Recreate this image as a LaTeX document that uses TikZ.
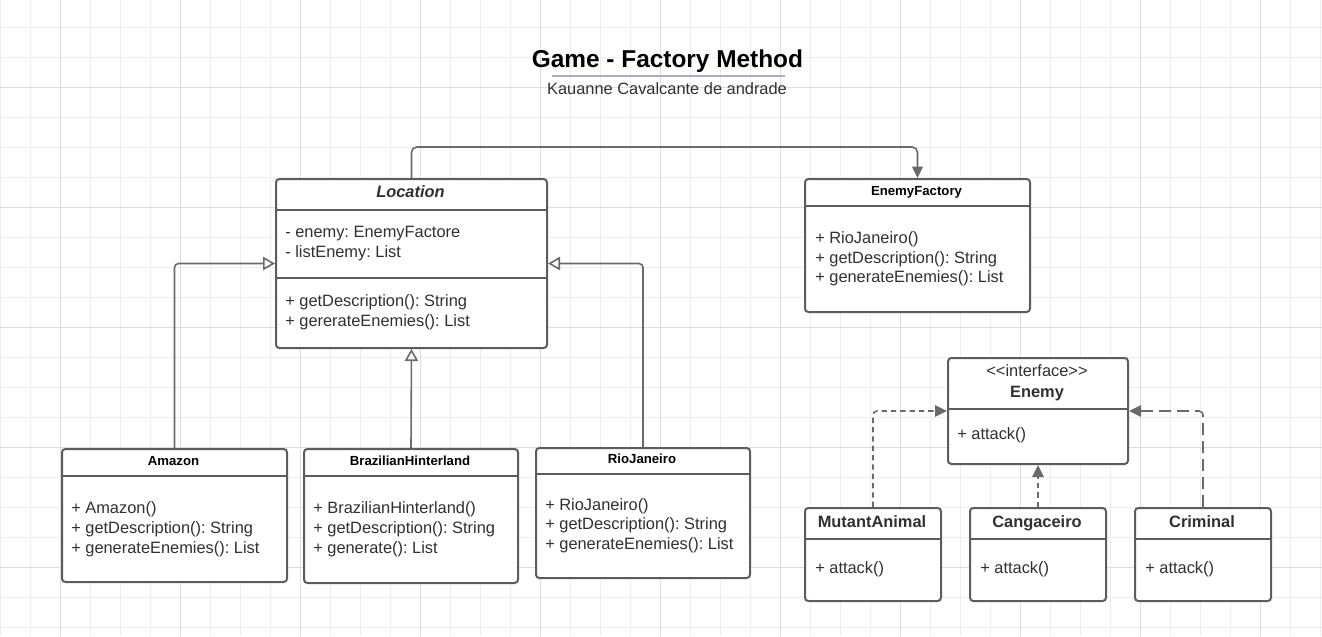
\documentclass[tikz,border=0pt]{standalone}
\usepackage{fontspec}
\setmainfont{Liberation Sans}
\usetikzlibrary{arrows.meta,calc}
\frenchspacing
\definecolor{boxgray}{HTML}{5C5C5C}
\definecolor{linegray}{HTML}{6A6A6A}
\definecolor{txtgray}{HTML}{2E3033}
\definecolor{gridminor}{HTML}{EEEEEE}
\definecolor{gridmajor}{HTML}{DDDDDD}
\definecolor{ulblue}{HTML}{A6ADC4}
\newcommand{\classbox}[5]{\node[classbox, minimum width=#4*0.75pt, minimum height=#5*0.75pt] (#1) at (#2,#3) {};}
\tikzset{
  classbox/.style={draw=boxgray, line width=1.5pt, rounded corners=2.5pt, fill=white, inner sep=0pt, anchor=north west},
  member/.style={anchor=base west, inner sep=0pt, text=txtgray, font=\fontsize{12.3}{15}\selectfont},
  cname/.style={anchor=base, inner sep=0pt, text=txtgray, font=\fontsize{12.3}{15}\selectfont\bfseries},
  cnamesmall/.style={anchor=base, inner sep=0pt, text=black, font=\fontsize{9.9}{12}\selectfont\bfseries},
  divider/.style={boxgray, line width=1.5pt},
  inherit/.style={linegray, line width=1.2pt, rounded corners=3pt, -{Triangle[open, length=9pt, width=10pt]}},
  realize/.style={linegray, line width=1.2pt, rounded corners=3pt, -{Triangle[length=9pt, width=8.5pt]}},
}

\begin{document}
\begin{tikzpicture}[x=0.75pt, y=-0.75pt]
\useasboundingbox (0,0) rectangle (1322,636);
% grid
\foreach \gx in {0,30,...,1320} \draw[gridminor, line width=0.6pt] (\gx,0) -- (\gx,636);
\foreach \gy in {27,57,...,627} \draw[gridminor, line width=0.6pt] (0,\gy) -- (1322,\gy);
\foreach \gx in {60,180,...,1260} \draw[gridmajor, line width=0.6pt] (\gx,0) -- (\gx,636);
\foreach \gy in {87,207,...,567} \draw[gridmajor, line width=0.6pt] (0,\gy) -- (1322,\gy);

% title
\node[anchor=base, inner sep=0pt, font=\fontsize{18.3}{22}\selectfont\bfseries] (title) at (667.5,67) {Game - Factory Method};
\draw[ulblue, line width=1.1pt] (552,76) -- (785,76);
\node[anchor=base, inner sep=0pt, text=txtgray, font=\fontsize{12.3}{15}\selectfont] (author) at (667,94) {Kauanne Cavalcante de andrade};

% Location
\classbox{loc}{275}{178}{271}{169}
\draw[divider] (loc.west |- 0,210) -- (loc.east |- 0,210); \draw[divider] (loc.west |- 0,278) -- (loc.east |- 0,278);
\node[cname, font=\fontsize{12.3}{15}\selectfont\bfseries\itshape] (loc-name) at (410.5,197) {Location};
\node[member] (loc-a1) at (285,237) {- enemy: EnemyFactore}; \node[member] (loc-a2) at (285,257) {- listEnemy: List};
\node[member] (loc-m1) at (285,306) {+ getDescription(): String}; \node[member] (loc-m2) at (285,326) {+ gererateEnemies(): List};

% EnemyFactory
\classbox{ef}{804}{178}{225}{133}
\draw[divider] (ef.west |- 0,206) -- (ef.east |- 0,206);
\node[cnamesmall] (ef-name) at (916.5,195) {EnemyFactory};
\node[member] (ef-m1) at (815,243) {+ RioJaneiro()}; \node[member] (ef-m2) at (815,263) {+ getDescription(): String}; \node[member] (ef-m3) at (815,282) {+ generateEnemies(): List};

% Enemy interface
\classbox{enemy}{947}{357}{180}{106}
\draw[divider] (enemy.west |- 0,409) -- (enemy.east |- 0,409);
\node[anchor=base, inner sep=0pt, text=txtgray, font=\fontsize{12.3}{15}\selectfont] (enemy-st) at (1037,376) {<{}<interface>{}>};
\node[cname] (enemy-name) at (1037,397) {Enemy};
\node[member] (enemy-m1) at (957,439) {+ attack()};

% enemies
\classbox{ma}{804}{507}{136}{93} \classbox{cang}{969}{507}{136}{93} \classbox{crim}{1134}{507}{136}{93}
\foreach \b in {ma,cang,crim} \draw[divider] (\b.west |- 0,539) -- (\b.east |- 0,539);
\node[cname] (ma-name) at (872,527) {MutantAnimal}; \node[member] (ma-m1) at (815,573) {+ attack()};
\node[cname] (cang-name) at (1037,527) {Cangaceiro}; \node[member] (cang-m1) at (980,573) {+ attack()};
\node[cname] (crim-name) at (1202,527) {Criminal}; \node[member] (crim-m1) at (1145,573) {+ attack()};

% locations
\classbox{amz}{61}{448}{225}{133}
\draw[divider] (amz.west |- 0,476) -- (amz.east |- 0,476);
\node[cnamesmall] (amz-name) at (173.5,465) {Amazon};
\node[member] (amz-m1) at (71,513) {+ Amazon()}; \node[member] (amz-m2) at (71,533) {+ getDescription(): String}; \node[member] (amz-m3) at (71,553) {+ generateEnemies(): List};
\classbox{bh}{303}{448}{214}{134}
\draw[divider] (bh.west |- 0,476) -- (bh.east |- 0,476);
\node[cnamesmall] (bh-name) at (410,465) {BrazilianHinterland};
\node[member] (bh-m1) at (313,513) {+ BrazilianHinterland()}; \node[member] (bh-m2) at (313,533) {+ getDescription(): String}; \node[member] (bh-m3) at (313,553) {+ generate(): List};
\classbox{rio}{535}{447}{214}{130}
\draw[divider] (rio.west |- 0,474) -- (rio.east |- 0,474);
\node[cnamesmall] (rio-name) at (642,463) {RioJaneiro};
\node[member] (rio-m1) at (545,510) {+ RioJaneiro()}; \node[member] (rio-m2) at (545,529) {+ getDescription(): String}; \node[member] (rio-m3) at (545,549) {+ generateEnemies(): List};

% connectors
\draw[linegray, line width=1.2pt, rounded corners=4pt, -{Triangle[length=8.5pt, width=8pt]}] (loc.north) -- ++(0,-31) -| (ef.north);
\draw[inherit] (amz.north) |- (loc.west);
\draw[inherit] (bh.north) -- (loc.south);
\draw[inherit] (rio.north) |- (loc.east);
\draw[realize, dash pattern=on 4pt off 3pt] (ma.north) |- (enemy.west);
\draw[realize, dash pattern=on 4pt off 3pt] (cang.north) -- (enemy.south);
\draw[realize, dash pattern=on 9pt off 4.5pt] (crim.north) |- (enemy.east);
\end{tikzpicture}
\end{document}
